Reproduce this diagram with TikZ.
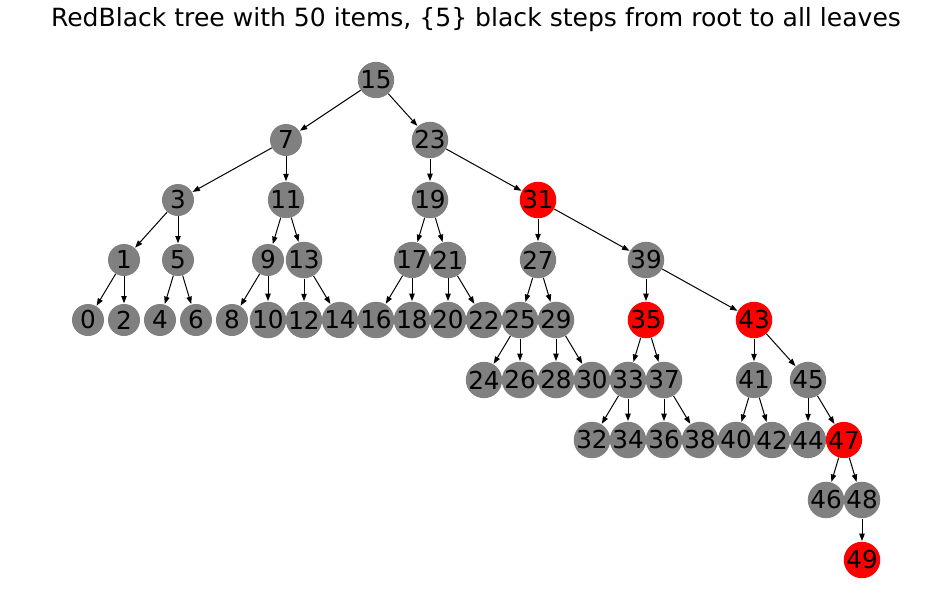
\documentclass[tikz,border=0pt]{standalone}
\usepackage{fontspec}
\setmainfont{DejaVu Sans}
\usetikzlibrary{arrows.meta}
\definecolor{ngray}{HTML}{808080}
\definecolor{nred}{HTML}{FF0000}
\tikzset{
  tnode/.style={circle, fill=ngray, minimum size=24pt, inner sep=0pt, font=\fontsize{18.5}{20}\selectfont},
  rnode/.style={tnode, fill=nred},
  edge/.style={draw=black, line width=0.75pt, -{Triangle[length=5.5pt,width=4pt]}, shorten >=0.3pt}
}
\begin{document}
\begin{tikzpicture}[x=0.75pt, y=-0.75pt]
\useasboundingbox (0,0) rectangle (950,615);
\node[anchor=base, font=\fontsize{18.8}{22}\selectfont] (title) at (476,26) {RedBlack tree with 50 items, \{5\} black steps from root to all leaves};
% gray nodes
\foreach \n/\x/\y in {
  15/376/80,
  7/286/140, 23/430/140,
  3/178/200, 11/286/200, 19/430/200,
  1/124/260, 5/178/260, 9/268/260, 13/304/260, 17/412/260, 21/448/260, 27/538/260, 39/646/260,
  0/88/320, 2/124/320, 4/160/320, 6/196/320, 8/232/320, 10/268/320, 12/304/320, 14/340/320,
  16/376/320, 18/412/320, 20/448/320, 22/484/320, 25/520/320, 29/556/320,
  24/484/380, 26/520/380, 28/556/380, 30/592/380, 33/628/380, 37/664/380, 41/754/380, 45/808/380,
  32/592/440, 34/628/440, 36/664/440, 38/700/440, 40/736/440, 42/772/440, 44/808/440,
  46/826/500, 48/862/500}
  \node[tnode] (n\n) at (\x,\y) {\n};
% red nodes
\foreach \n/\x/\y in {31/538/200, 35/646/320, 43/754/320, 47/844/440, 49/862/560}
  \node[rnode] (n\n) at (\x,\y) {\n};
% edges
\foreach \a/\b in {15/7, 15/23, 7/3, 7/11, 23/19, 23/31, 3/1, 3/5, 11/9, 11/13,
  19/17, 19/21, 31/27, 31/39, 1/0, 1/2, 5/4, 5/6, 9/8, 9/10, 13/12, 13/14,
  17/16, 17/18, 21/20, 21/22, 27/25, 27/29, 39/35, 39/43,
  25/24, 25/26, 29/28, 29/30, 35/33, 35/37, 43/41, 43/45,
  33/32, 33/34, 37/36, 37/38, 41/40, 41/42, 45/44, 45/47,
  47/46, 47/48, 48/49}
  \draw[edge] (n\a) -- (n\b);
\end{tikzpicture}
\end{document}
